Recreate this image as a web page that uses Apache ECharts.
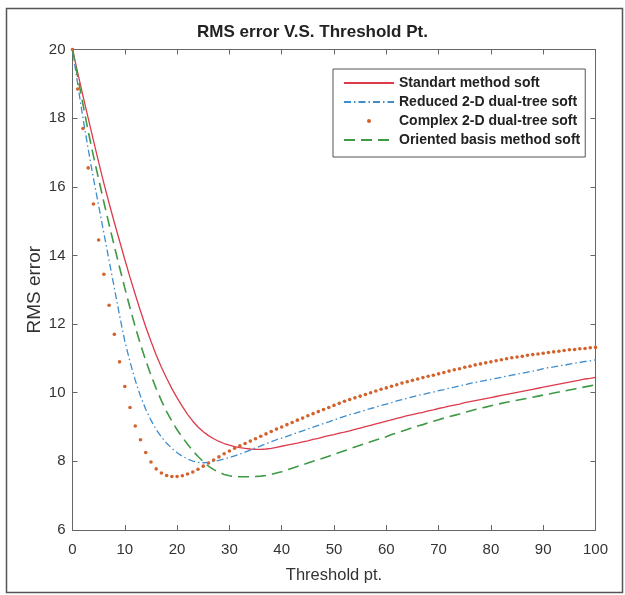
<!DOCTYPE html>
<html>
<head>
<meta charset="utf-8">
<script src="https://cdn.jsdelivr.net/npm/echarts@6/dist/echarts.min.js"></script>
<style>
html,body{margin:0;padding:0;background:#fff;}
#chart{width:625px;height:595px;}
</style>
</head>
<body>
<div id="chart"></div>
<script>
var titleText = 'RMS error V.S. Threshold Pt.';
var xName = 'Threshold pt.';
var yName = 'RMS error';
var seriesNames = ['Standart method soft', 'Reduced 2-D dual-tree soft', 'Complex 2-D dual-tree soft', 'Oriented basis method soft'];

var thresholds = [0,1,2,3,4,5,6,7,8,9,10,11,12,13,14,15,16,17,18,19,20,21,22,23,24,25,26,27,28,29,30,31,32,33,34,35,36,37,38,39,40,41,42,43,44,45,46,47,48,49,50,51,52,53,54,55,56,57,58,59,60,61,62,63,64,65,66,67,68,69,70,71,72,73,74,75,76,77,78,79,80,81,82,83,84,85,86,87,88,89,90,91,92,93,94,95,96,97,98,99,100];

var standart = [20,19.32,18.65,18.0,17.35,16.72,16.1,15.52,14.96,14.42,13.88,13.36,12.86,12.38,11.92,11.5,11.1,10.74,10.42,10.12,9.85,9.6,9.37,9.17,9.0,8.86,8.75,8.66,8.58,8.52,8.47,8.43,8.4,8.38,8.36,8.35,8.35,8.36,8.38,8.41,8.44,8.47,8.5,8.53,8.57,8.6,8.64,8.67,8.71,8.75,8.78,8.82,8.85,8.89,8.93,8.97,9.01,9.05,9.09,9.13,9.17,9.21,9.25,9.29,9.33,9.36,9.4,9.43,9.47,9.5,9.54,9.57,9.61,9.64,9.67,9.71,9.74,9.77,9.8,9.83,9.86,9.89,9.92,9.95,9.98,10.01,10.04,10.07,10.1,10.13,10.16,10.19,10.22,10.25,10.28,10.31,10.34,10.37,10.4,10.42,10.45];

var reduced = [20,18.98,18.0,17.1,16.25,15.45,14.65,13.85,13.05,12.25,11.5,10.9,10.36,9.9,9.52,9.2,8.93,8.71,8.53,8.38,8.25,8.15,8.07,8.01,7.97,7.96,7.97,8.0,8.03,8.07,8.11,8.16,8.21,8.27,8.33,8.39,8.45,8.51,8.57,8.63,8.68,8.73,8.78,8.84,8.89,8.94,9.0,9.05,9.1,9.15,9.21,9.26,9.31,9.36,9.4,9.45,9.49,9.54,9.58,9.63,9.67,9.71,9.76,9.8,9.84,9.88,9.92,9.95,9.99,10.02,10.06,10.09,10.13,10.16,10.2,10.23,10.27,10.3,10.33,10.36,10.39,10.42,10.45,10.48,10.51,10.54,10.57,10.6,10.63,10.66,10.7,10.73,10.75,10.78,10.8,10.83,10.86,10.88,10.91,10.93,10.96];

var complex = [20,18.85,17.7,16.55,15.5,14.45,13.45,12.55,11.7,10.9,10.18,9.57,9.03,8.63,8.26,7.98,7.78,7.66,7.59,7.56,7.56,7.58,7.63,7.69,7.77,7.86,7.95,8.04,8.13,8.22,8.3,8.38,8.45,8.52,8.59,8.66,8.73,8.8,8.87,8.94,9.0,9.07,9.13,9.2,9.26,9.33,9.39,9.45,9.51,9.57,9.63,9.69,9.75,9.8,9.85,9.9,9.95,10.0,10.05,10.1,10.14,10.19,10.23,10.28,10.32,10.36,10.4,10.44,10.48,10.51,10.55,10.59,10.63,10.67,10.7,10.74,10.77,10.81,10.84,10.87,10.9,10.93,10.96,10.99,11.02,11.04,11.06,11.09,11.11,11.13,11.15,11.17,11.19,11.21,11.23,11.25,11.26,11.28,11.29,11.31,11.32];

var oriented = [20,19.2,18.4,17.62,16.9,16.22,15.55,14.9,14.27,13.65,13.05,12.47,11.92,11.41,10.94,10.51,10.12,9.77,9.45,9.17,8.92,8.7,8.5,8.31,8.14,7.99,7.86,7.76,7.68,7.62,7.58,7.56,7.55,7.55,7.55,7.56,7.57,7.59,7.62,7.66,7.7,7.75,7.8,7.85,7.9,7.95,8.0,8.05,8.1,8.15,8.2,8.26,8.31,8.36,8.42,8.47,8.52,8.57,8.62,8.67,8.72,8.78,8.83,8.88,8.93,8.98,9.03,9.07,9.12,9.17,9.21,9.26,9.3,9.34,9.38,9.43,9.47,9.51,9.55,9.58,9.62,9.65,9.69,9.72,9.75,9.78,9.81,9.84,9.87,9.9,9.93,9.96,9.99,10.02,10.05,10.08,10.11,10.14,10.17,10.2,10.23];

function pairs(arr){ return thresholds.map(function(t,i){ return [t, arr[i]]; }); }

var FONT = '"Liberation Sans", Arial, sans-serif';
var AX = '#666666';
var TXT = '#333333';

var chart = echarts.init(document.getElementById('chart'), null, {renderer:'canvas'});

function xAx(pos, show){
  return {
    type:'value', position:pos, min:0, max:100, interval:10,
    name: show ? xName : '', nameLocation:'middle', nameGap:37, nameMoveOverlap:false,
    nameTextStyle:{fontFamily:FONT, fontSize:16.5, color:TXT},
    axisLine:{show:true, onZero:false, lineStyle:{color:AX, width:1}},
    axisTick:{show:true, inside:true, length:5, lineStyle:{color:AX}},
    axisLabel:{show:show, margin:12, fontFamily:FONT, fontSize:15, color:TXT},
    splitLine:{show:false}
  };
}
function yAx(pos, show){
  return {
    type:'value', position:pos, min:6, max:20, interval:2,
    name: show ? yName : '', nameLocation:'middle', nameGap:28, nameRotate:90, nameMoveOverlap:false,
    nameTextStyle:{fontFamily:FONT, fontSize:19, color:TXT},
    axisLine:{show:true, onZero:false, lineStyle:{color:AX, width:1}},
    axisTick:{show:true, inside:true, length:5, lineStyle:{color:AX}},
    axisLabel:{show:show, margin:7, fontFamily:FONT, fontSize:15, color:TXT},
    splitLine:{show:false}
  };
}

var option = {
  backgroundColor:'#ffffff',
  animation:false,
  title:{
    text:titleText, left:'center', top:19,
    textStyle:{fontFamily:FONT, fontSize:17, fontWeight:'bold', color:'#222222'}
  },
  grid:{left:72.5, right:29.5, top:49.5, bottom:65, containLabel:false},
  xAxis:[xAx('bottom', true), xAx('top', false)],
  yAxis:[yAx('left', true), yAx('right', false)],
  legend:{
    orient:'vertical', left:333, top:69,
    padding:[7, 5, 10, 10], itemGap:5, itemWidth:50, itemHeight:5,
    borderColor:'#555555', borderWidth:1, backgroundColor:'#ffffff',
    textStyle:{fontFamily:FONT, fontSize:14, fontWeight:'bold', color:'#222222', lineHeight:14},
    data:[
      {name:seriesNames[0], itemStyle:{opacity:0}},
      {name:seriesNames[1], itemStyle:{opacity:0}},
      {name:seriesNames[2], lineStyle:{opacity:0, width:0}},
      {name:seriesNames[3], itemStyle:{opacity:0}}
    ]
  },
  series:[
    {name:seriesNames[0], type:'line', data:pairs(standart), symbol:'none', z:3,
     lineStyle:{color:'#dd3a4c', width:1.3, type:'solid'}, itemStyle:{color:'#dd3a4c'}},
    {name:seriesNames[1], type:'line', data:pairs(reduced), symbol:'none', z:3,
     lineStyle:{color:'#3d8ccc', width:1.3, type:[7,3,1.5,3]}, itemStyle:{color:'#3d8ccc'}},
    {name:seriesNames[2], type:'line', data:pairs(complex), symbol:'circle', symbolSize:3.6, showSymbol:true, z:4,
     lineStyle:{color:'#d4622d', width:0, opacity:0}, itemStyle:{color:'#d4622d'}},
    {name:seriesNames[3], type:'line', data:pairs(oriented), symbol:'none', z:3,
     lineStyle:{color:'#3e9a45', width:1.6, type:[11,6]}, itemStyle:{color:'#3e9a45'}}
  ],
  graphic:[
    {type:'rect', left:4, top:6, shape:{width:616, height:584}, silent:true, z:-10,
     style:{fill:'none', stroke:'#555555', lineWidth:1.5}}
  ]
};
chart.setOption(option);
</script>
</body>
</html>
